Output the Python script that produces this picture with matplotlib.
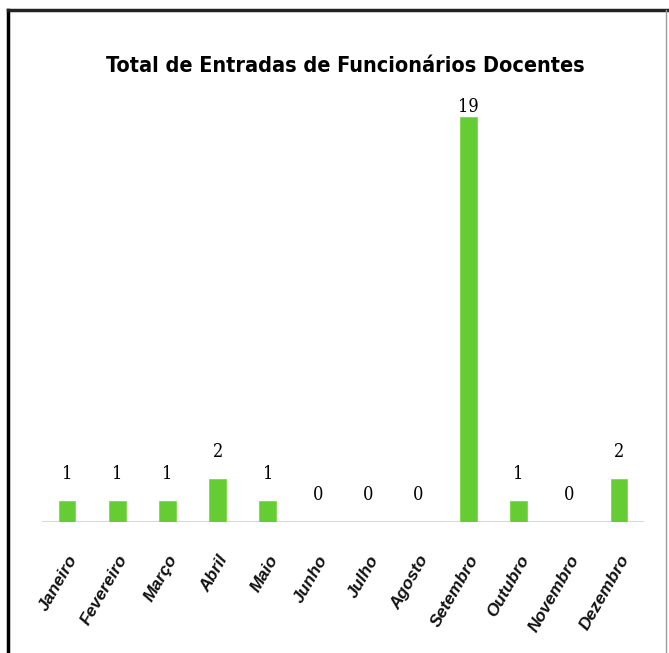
import matplotlib.pyplot as plt
import numpy as np

# data
meses = ["Janeiro", "Fevereiro", "Março", "Abril", "Maio", "Junho", "Julho",
         "Agosto", "Setembro", "Outubro", "Novembro", "Dezembro"]
entradas = [1, 1, 1, 2, 1, 0, 0, 0, 19, 1, 0, 2]
titulo = "Total de Entradas de Funcionários Docentes"

W, H = 669, 653
fig = plt.figure(figsize=(W / 100, H / 100), dpi=100)

# plot area in pixels: x 42..644, baseline y 522, 20 units -> 426 px
left, right, base, top = 42, 644, 522, 96
ax = fig.add_axes([left / W, 1 - base / H, (right - left) / W, (base - top) / H])

x = np.arange(len(meses))
ax.bar(x, entradas, width=0.33, color="#66CC33", edgecolor="#7fd94a", linewidth=0.6, zorder=2)
ax.set_xlim(-0.5, len(meses) - 0.5)
ax.set_ylim(0, 20)

for s in ax.spines.values():
    s.set_visible(False)
ax.axhline(0, color="#d9d9d9", lw=1.5, zorder=1)
ax.set_yticks([])
ax.set_xticks(x)
ax.set_xticklabels(meses, rotation=60, ha="right", rotation_mode="anchor",
                   fontsize=12.5, style="italic", fontweight="bold",
                   family="Liberation Sans", color="#111111")
ax.tick_params(axis="x", length=0, pad=22)

vmax = max(entradas)
for xi, v in zip(x, entradas):
    off = 1 if v == vmax else 13
    ax.annotate(str(v), (xi, v), xytext=(0, off), textcoords="offset points",
                ha="center", va="bottom", fontsize=13, family="DejaVu Serif",
                fontstretch="condensed")

fig.text(345 / W, 1 - 66 / H, titulo, ha="center", va="center", fontsize=15.5,
         fontweight="bold", fontstretch="condensed", family="DejaVu Sans")

# scanned frame
fig.add_artist(plt.Line2D([8 / W, 8 / W], [0, 1 - 10 / H], color="black", lw=2.5))
fig.add_artist(plt.Line2D([8 / W, 1], [1 - 10 / H, 1 - 10 / H], color="#222222", lw=2.5))
fig.add_artist(plt.Line2D([666 / W, 666 / W], [0, 1 - 10 / H], color="#999999", lw=1))

fig.savefig("out.png", dpi=100)
